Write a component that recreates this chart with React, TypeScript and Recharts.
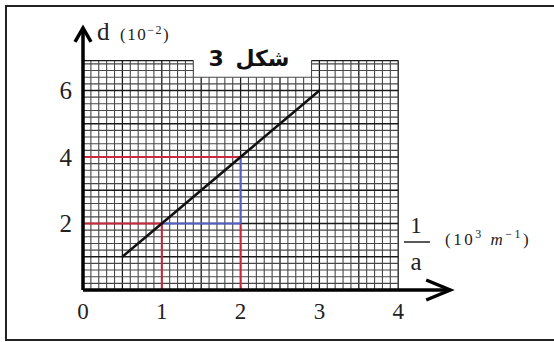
import { ComposedChart, Line, Scatter, XAxis, YAxis, ReferenceLine } from 'recharts'

const xTicks = [0, 1, 2, 3, 4]
const yTicks = [2, 4, 6]
// straight line through the measurements
const fitLine = [
  { x: 0.5, d: 1 },
  { x: 3, d: 6 },
]
// read-off points used for the slope
const readings = [
  { x: 1, d: 2 },
  { x: 2, d: 4 },
]

// axes end in arrows a bit past the paper
const X_END = 4.66
const Y_END = 7.88
const X_MAX = 5
const Y_MAX = 8.3
const arrowTips = [
  { x: X_END, d: 0, dir: 'right' },
  { x: 0, d: Y_END, dir: 'up' },
]

// graph paper: 0.1 per cell across, 0.2 per cell up, with a notch at the top
const PAPER_W = 4
const PAPER_TOP = 6.9
const NOTCH = { from: 1.4, to: 2.9, top: 6.4 }

const RED = '#c9283d'
const BLUE = '#5461c4'
const SERIF = '"Liberation Serif", "DejaVu Serif", serif'

type Seg = { x1: number; y1: number; x2: number; y2: number; major: boolean }

function paperLines(): Seg[] {
  const out: Seg[] = []
  for (let i = 1; i <= 40; i++) {
    const x = i / 10
    const inNotch = x > NOTCH.from + 1e-6 && x < NOTCH.to - 1e-6
    out.push({ x1: x, y1: 0, x2: x, y2: inNotch ? NOTCH.top : PAPER_TOP, major: i % 5 === 0 })
  }
  out.push({ x1: 0, y1: 0, x2: 0, y2: PAPER_TOP, major: true })
  for (let j = 1; j <= 35; j++) {
    const y = j === 35 ? PAPER_TOP : j / 5
    const major = j % 5 === 0 || j === 35
    if (y <= NOTCH.top + 1e-6) {
      out.push({ x1: 0, y1: y, x2: PAPER_W, y2: y, major })
    } else {
      out.push({ x1: 0, y1: y, x2: NOTCH.from, y2: y, major })
      out.push({ x1: NOTCH.to, y1: y, x2: PAPER_W, y2: y, major })
    }
  }
  return out
}

function Arrow(props: any) {
  const { cx, cy, payload } = props
  if (cx == null || cy == null) return null
  const d =
    payload.dir === 'right'
      ? `M${cx - 24},${cy - 10} L${cx},${cy} L${cx - 24},${cy + 10}`
      : `M${cx - 8},${cy + 14} L${cx},${cy} L${cx + 8},${cy + 14}`
  return <path d={d} fill="none" stroke="#000" strokeWidth={3.5} strokeLinejoin="miter" />
}

export default function App() {
  const grid = paperLines()
  return (
    <div style={{ position: 'relative', width: 554, height: 342, background: '#fff' }}>
      <style>{'body{margin:0}'}</style>
      <div
        style={{
          position: 'absolute',
          left: 5,
          top: 5,
          width: 549,
          height: 336,
          boxSizing: 'border-box',
          borderTop: '2px solid #222',
          borderLeft: '2px solid #222',
          borderBottom: '2px solid #222',
        }}
      />
      <div style={{ position: 'absolute', left: 0, top: 0 }}>
        <ComposedChart width={554} height={342} margin={{ top: 14, right: 77, bottom: 22, left: 43 }}>
          <XAxis
            type="number"
            dataKey="x"
            domain={[0, X_MAX]}
            ticks={xTicks}
            interval={0}
            height={30}
            tickLine={false}
            tickSize={0}
            tickMargin={13}
            axisLine={false}
            tick={{ fill: '#222', fontSize: 23, fontFamily: SERIF }}
          />
          <YAxis
            type="number"
            domain={[0, Y_MAX]}
            ticks={yTicks}
            interval={0}
            width={40}
            tickLine={false}
            tickSize={0}
            tickMargin={11}
            axisLine={false}
            tick={{ fill: '#222', fontSize: 25, fontFamily: SERIF }}
          />
          {grid.map((s, i) => (
            <ReferenceLine
              key={`g-${i}`}
              segment={[
                { x: s.x1, y: s.y1 },
                { x: s.x2, y: s.y2 },
              ]}
              stroke={s.major ? '#1a1a1a' : '#474747'}
              strokeWidth={s.major ? 1.3 : 1.1}
            />
          ))}
          {readings.map((r, i) => (
            <ReferenceLine
              key={`rh-${i}`}
              segment={[
                { x: 0, y: r.d },
                { x: r.x, y: r.d },
              ]}
              stroke={RED}
              strokeWidth={2}
            />
          ))}
          {readings.map((r, i) => (
            <ReferenceLine
              key={`rv-${i}`}
              segment={[
                { x: r.x, y: 0 },
                { x: r.x, y: readings[0].d },
              ]}
              stroke={RED}
              strokeWidth={2}
            />
          ))}
          <ReferenceLine
            segment={[
              { x: readings[0].x, y: readings[0].d },
              { x: readings[1].x, y: readings[0].d },
            ]}
            stroke={BLUE}
            strokeWidth={2}
          />
          <ReferenceLine
            segment={[
              { x: readings[1].x, y: readings[0].d },
              { x: readings[1].x, y: readings[1].d },
            ]}
            stroke={BLUE}
            strokeWidth={2}
          />
          <ReferenceLine
            segment={[
              { x: 0, y: 0 },
              { x: X_END, y: 0 },
            ]}
            stroke="#000"
            strokeWidth={3.5}
          />
          <ReferenceLine
            segment={[
              { x: 0, y: 0 },
              { x: 0, y: Y_END },
            ]}
            stroke="#000"
            strokeWidth={3.5}
          />
          <Line
            data={fitLine}
            dataKey="d"
            stroke="#111"
            strokeWidth={2.5}
            dot={false}
            isAnimationActive={false}
          />
          <Scatter data={arrowTips} dataKey="d" shape={<Arrow />} isAnimationActive={false} />
        </ComposedChart>
      </div>
      <svg width={554} height={342} style={{ position: 'absolute', left: 0, top: 0, pointerEvents: 'none' }}>
        <text x={97} y={40} fontSize={25} fontFamily={SERIF} fill="#222">
          d
        </text>
        <text x={120} y={40} fontSize={17} fontFamily={SERIF} fill="#222" letterSpacing={1.5}>
          (10
          <tspan dy={-6} fontSize={12}>
            −2
          </tspan>
          <tspan dy={6}>)</tspan>
        </text>
        <text
          x={249}
          y={66}
          textAnchor="middle"
          fontSize={22}
          fontWeight="bold"
          fontFamily='"DejaVu Sans", sans-serif'
          fill="#111"
          wordSpacing={4}
        >
          شكل 3
        </text>
        <text x={416} y={233} textAnchor="middle" fontSize={23} fontFamily={SERIF} fill="#222">
          1
        </text>
        <line x1={404} y1={242} x2={430} y2={242} stroke="#222" strokeWidth={1.5} />
        <text x={416} y={270} textAnchor="middle" fontSize={25} fontFamily={SERIF} fill="#222">
          a
        </text>
        <text x={445} y={245} fontSize={17} fontFamily={SERIF} fill="#222" letterSpacing={2.5}>
          (10
          <tspan dy={-7} fontSize={12}>
            3
          </tspan>
          <tspan dy={7} fontStyle="italic">
            {' '}m
          </tspan>
          <tspan dy={-7} fontSize={12}>
            −1
          </tspan>
          <tspan dy={7}>)</tspan>
        </text>
      </svg>
    </div>
  )
}
